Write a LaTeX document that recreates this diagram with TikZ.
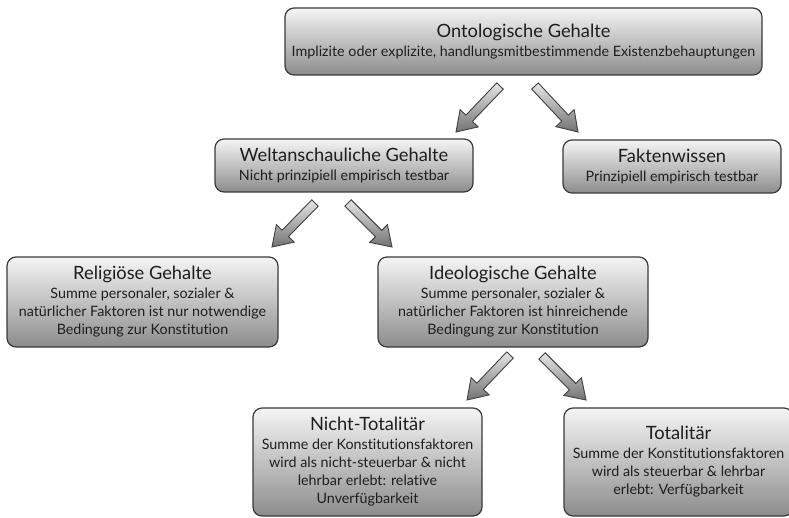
\documentclass[tikz,border=0pt]{standalone}
\usepackage{fontspec}
\setmainfont{Lato}[Ligatures=NoCommon]
\usetikzlibrary{calc}
\definecolor{boxline}{HTML}{3A3A3A}
\definecolor{txt}{HTML}{1E1E1E}
\newcommand\ttl[1]{{\fontsize{18.3}{18}\selectfont #1}\\[1pt]}
\newcommand\blockarrow[3]{%
  \coordinate (#3h) at ($(#2)!19pt!(#1)$);
  \draw[barrow] ($(#1)!4.5pt!90:(#2)$) -- ($(#3h)!4.5pt!-90:(#1)$) -- ($(#3h)!12.5pt!-90:(#1)$) -- (#2)
     -- ($(#3h)!12.5pt!90:(#1)$) -- ($(#3h)!4.5pt!90:(#1)$) -- ($(#1)!4.5pt!-90:(#2)$) -- cycle;
}
\tikzset{
  box/.style={draw=boxline, line width=1.2pt, rounded corners=9pt,
    top color=black!4, bottom color=black!45, align=center, text=txt,
    font=\fontsize{14.3}{18}\selectfont, inner sep=2pt},
  barrow/.style={draw=black!75, line width=0.9pt, line join=miter,
    top color=black!10, bottom color=black!55}
}
\begin{document}
\begin{tikzpicture}[x=1pt,y=-1pt]
\useasboundingbox (0,0) rectangle (789,518);
\clip (0,0) rectangle (789,518);
\node[box, minimum width=477pt, minimum height=67pt] (onto) at (523.5,41.5)
  {\ttl{Ontologische Gehalte}Implizite oder explizite, handlungsmitbestimmende Existenzbehauptungen};
\node[box, minimum width=258pt, minimum height=53pt] (welt) at (344,165.5)
  {\ttl{Weltanschauliche Gehalte}Nicht prinzipiell empirisch testbar};
\node[box, minimum width=218pt, minimum height=53pt] (fakt) at (672,166.5)
  {\ttl{Faktenwissen}Prinzipiell empirisch testbar};
\node[box, minimum width=271pt, minimum height=90pt] (reli) at (142.5,302)
  {\ttl{Religiöse Gehalte}Summe personaler, sozialer \&\\natürlicher Faktoren ist nur notwendige\\Bedingung zur Konstitution};
\node[box, minimum width=270pt, minimum height=90pt] (ideo) at (513,302)
  {\ttl{Ideologische Gehalte}Summe personaler, sozialer \&\\natürlicher Faktoren ist hinreichende\\Bedingung zur Konstitution};
\node[box, minimum width=229pt, minimum height=108pt] (nicht) at (367.5,462)
  {\ttl{Nicht-Totalitär}Summe der Konstitutionsfaktoren\\wird als nicht-steuerbar \& nicht\\lehrbar erlebt: relative\\Unverfügbarkeit};
\node[box, minimum width=229pt, minimum height=108pt] (tot) at (678.5,462)
  {\ttl{Totalitär}Summe der Konstitutionsfaktoren\\wird als steuerbar \& lehrbar\\erlebt: Verfügbarkeit};
% arrow ends
\coordinate (a1s) at (500,86);  \coordinate (a1e) at (456,132);
\coordinate (a2s) at (535,86);  \coordinate (a2e) at (578,132);
\coordinate (a3s) at (315,203); \coordinate (a3e) at (272,247);
\coordinate (a4s) at (348,203); \coordinate (a4e) at (392,247);
\coordinate (a5s) at (510,355); \coordinate (a5e) at (467,400);
\coordinate (a6s) at (542,356); \coordinate (a6e) at (586,400);
\blockarrow{a1s}{a1e}{a1}
\blockarrow{a2s}{a2e}{a2}
\blockarrow{a3s}{a3e}{a3}
\blockarrow{a4s}{a4e}{a4}
\blockarrow{a5s}{a5e}{a5}
\blockarrow{a6s}{a6e}{a6}
\end{tikzpicture}
\end{document}
